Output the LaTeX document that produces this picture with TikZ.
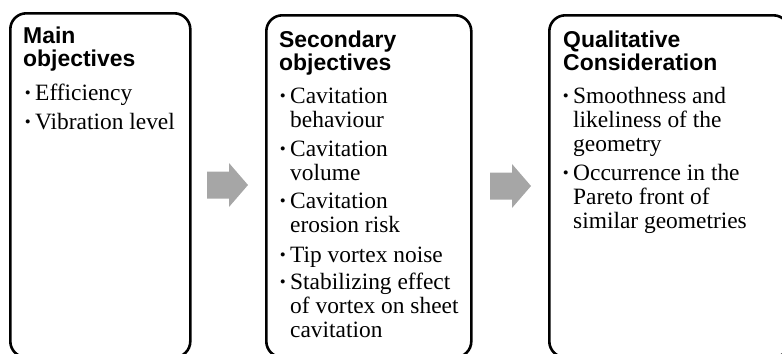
\documentclass[tikz,border=0pt]{standalone}
\usepackage{fontspec}
\setmainfont{Liberation Serif}
\newfontfamily\titlefont{Liberation Sans}
\newcommand{\itm}{\llap{\fontsize{17}{17}\selectfont\raisebox{2bp}{•}\hspace{4.5bp}}}
\newcommand{\lns}[1]{\begin{tabular}[t]{@{}l@{}}#1\end{tabular}}
\begin{document}
\begin{tikzpicture}[x=1bp,y=-1bp,
  box/.style={draw=black, line width=2.6bp, rounded corners=16bp, inner sep=0pt,
    anchor=north west, minimum height=342bp},
  ttl/.style={font=\titlefont\bfseries\fontsize{23}{22.5}\selectfont,
    inner sep=0pt, anchor=base west, text=black},
  item/.style={font=\fontsize{23.5}{24.5}\selectfont,
    inner sep=0pt, anchor=base west, text=black},
  garrow/.style={fill=black!35}]
\clip (0,0) rectangle (782,353);
% boxes
\node[box, minimum width=180bp, minimum height=344bp] (b1) at (9,12) {};
\node[box, minimum width=205bp] (b2) at (265,14) {};
\node[box, minimum width=240bp] (b3) at (548,14) {};
% arrows
\fill[garrow] (207,171.5) -- (229,171.5) -- (229,163) -- (248,185) -- (229,207)
  -- (229,198.5) -- (207,198.5) -- cycle;
\fill[garrow] (490,172.5) -- (512,172.5) -- (512,164) -- (531,186) -- (512,208)
  -- (512,199.5) -- (490,199.5) -- cycle;
% box 1
\node[ttl] (t1) at (23,43) {\lns{Main\\objectives}};
\node[item] (i11) at (35,100) {\itm Efficiency};
\node[item] (i12) at (35,129) {\itm Vibration level};
% box 2
\node[ttl] (t2) at (279,47) {\lns{Secondary\\objectives}};
\node[item] (i21) at (290,103) {\lns{\itm Cavitation\\behaviour}};
\node[item] (i22) at (290,156) {\lns{\itm Cavitation\\volume}};
\node[item] (i23) at (290,208) {\lns{\itm Cavitation\\erosion risk}};
\node[item] (i24) at (290,262) {\itm Tip vortex noise};
\node[item] (i25) at (290,289) {\lns{\itm Stabilizing effect\\of vortex on sheet\\cavitation}};
% box 3
\node[ttl] (t3) at (563,47) {\lns{Qualitative\\Consideration}};
\node[item] (i31) at (573,103) {\lns{\itm Smoothness and\\likeliness of the\\geometry}};
\node[item] (i32) at (573,180) {\lns{\itm Occurrence in the\\Pareto front of\\similar geometries}};
\end{tikzpicture}
\end{document}
